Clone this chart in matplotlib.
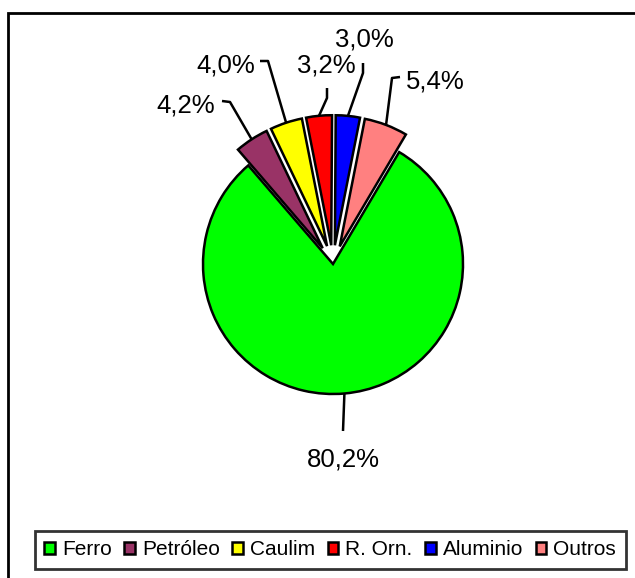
import numpy as np
import matplotlib
matplotlib.use("Agg")
import matplotlib.pyplot as plt
from matplotlib.patches import Rectangle

plt.rcParams['font.family'] = ['Liberation Sans', 'DejaVu Sans']

# ---- data ----
categories = ["Ferro", "Petróleo", "Caulim", "R. Orn.", "Aluminio", "Outros"]
values = [80.2, 4.2, 4.0, 3.2, 3.0, 5.4]
colors = ["#00FF00", "#993366", "#FFFF00", "#FF0000", "#0000FF", "#FF8080"]

# ---- layout (pixel coordinates, y downward) ----
W, H = 635, 578
cx_px, cy_px, R = 333, 264, 130
explode_frac = [0.0, 0.145, 0.145, 0.145, 0.145, 0.145]
start_angle = 59.4
# text centre, elbow, end of leader line
label_pos = [(343, 459), (186, 105), (226, 65), (326, 66), (364, 39), (435, 82)]
elbow_pos = [(343, 431), (230, 102), (268, 61), (327, 98), (363, 73), (392, 78)]
end_pos = [(343, 431), (222, 101), (260, 61), (327, 88), (363, 63), (400, 77)]

fig = plt.figure(figsize=(W / 100, H / 100), dpi=100)
ax = fig.add_axes([0, 0, 1, 1])

center = (cx_px, H - cy_px)
explode = [e * R for e in explode_frac]
wedges, _ = ax.pie(values, colors=colors, startangle=start_angle,
                   counterclock=False, explode=explode, radius=R,
                   center=center,
                   wedgeprops=dict(edgecolor='black', linewidth=1.8))
ax.set_xlim(0, W)
ax.set_ylim(0, H)
ax.set_aspect('equal')
ax.axis('off')

for i, w in enumerate(wedges):
    mid = np.deg2rad((w.theta1 + w.theta2) / 2)
    off = explode[i]
    ax_ = center[0] + (R + off) * np.cos(mid)
    ay_ = center[1] + (R + off) * np.sin(mid)
    ex, ey = elbow_pos[i]
    nx, ny = end_pos[i]
    ax.plot([ax_, ex, nx], [ay_, H - ey, H - ny], color='black', lw=1.8,
            solid_capstyle='butt')
    txt = f"{values[i]:.1f}".replace('.', ',') + '%'
    lx, ly = label_pos[i]
    ax.text(lx, H - ly, txt, ha='center', va='center', fontsize=18.5)

# outer frame
fig.patches.append(Rectangle((8 / W, -0.1), 1.2, (1 - 13 / H) + 0.1,
                             transform=fig.transFigure, fill=False,
                             edgecolor='black', linewidth=2.0))

leg = fig.legend(handles=wedges, labels=categories, ncol=6, loc='upper left',
                 bbox_to_anchor=(35 / W, 1 - 531 / H),
                 bbox_transform=fig.transFigure, frameon=True, fancybox=False,
                 edgecolor='black', fontsize=15, handlelength=0.5,
                 handleheight=0.5, handletextpad=0.35, columnspacing=0.6,
                 borderpad=0.45, borderaxespad=0)
leg.get_frame().set_linewidth(2.0)

fig.savefig("out.png", dpi=100)
